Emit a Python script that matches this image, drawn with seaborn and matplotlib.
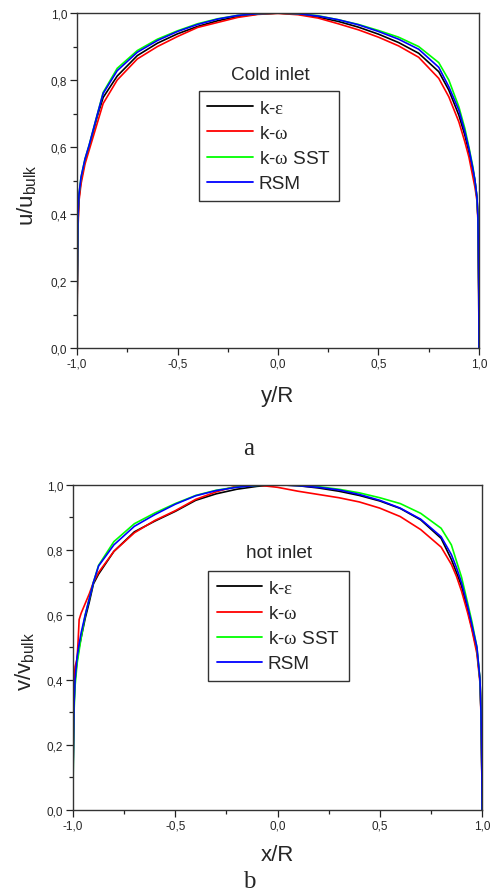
import numpy as np
import pandas as pd
import matplotlib
matplotlib.use("Agg")
import matplotlib.pyplot as plt
from matplotlib.ticker import MultipleLocator, FuncFormatter
import seaborn as sns

# ---- velocity profiles, cold inlet (u/u_bulk vs y/R) ----
r_cold = [-1.0, -0.999, -0.995, -0.99, -0.98, -0.96, -0.94, -0.92, -0.90, -0.87,
          -0.80, -0.70, -0.60, -0.50, -0.40, -0.30, -0.20, -0.10, 0.0, 0.10,
          0.20, 0.30, 0.40, 0.50, 0.60, 0.70, 0.80, 0.85, 0.90, 0.93,
          0.95, 0.97, 0.98, 0.99, 0.995, 0.999, 1.0]
cold_ke = [0, 0.16, 0.38, 0.45, 0.50, 0.56, 0.60, 0.645, 0.69, 0.748,
           0.812, 0.873, 0.910, 0.938, 0.960, 0.977, 0.990, 0.997, 1.0, 0.997,
           0.988, 0.975, 0.958, 0.937, 0.912, 0.880, 0.825, 0.770, 0.695, 0.635,
           0.585, 0.530, 0.500, 0.450, 0.39, 0.16, 0]
cold_kw = [0, 0.15, 0.36, 0.44, 0.49, 0.55, 0.59, 0.63, 0.67, 0.73,
           0.800, 0.863, 0.900, 0.930, 0.957, 0.972, 0.987, 0.996, 0.999, 0.995,
           0.985, 0.968, 0.950, 0.928, 0.902, 0.868, 0.805, 0.750, 0.675, 0.615,
           0.57, 0.51, 0.48, 0.44, 0.38, 0.15, 0]
cold_sst = [0, 0.18, 0.40, 0.46, 0.51, 0.565, 0.605, 0.65, 0.695, 0.763,
            0.835, 0.888, 0.922, 0.947, 0.968, 0.983, 0.993, 0.998, 1.0, 0.998,
            0.992, 0.980, 0.966, 0.948, 0.928, 0.900, 0.852, 0.800, 0.720, 0.655,
            0.600, 0.540, 0.500, 0.450, 0.39, 0.17, 0]
cold_rsm = [0, 0.18, 0.40, 0.46, 0.51, 0.565, 0.605, 0.65, 0.695, 0.760,
            0.828, 0.883, 0.918, 0.945, 0.966, 0.982, 0.993, 0.998, 1.0, 0.998,
            0.991, 0.980, 0.965, 0.945, 0.922, 0.892, 0.838, 0.780, 0.710, 0.645,
            0.595, 0.535, 0.500, 0.450, 0.39, 0.17, 0]

# ---- velocity profiles, hot inlet (v/v_bulk vs x/R) ----
r_hot = [-1.0, -0.999, -0.995, -0.99, -0.98, -0.975, -0.97, -0.96, -0.94, -0.92,
         -0.90, -0.875, -0.80, -0.70, -0.60, -0.50, -0.40, -0.30, -0.20, -0.10,
         0.0, 0.10, 0.20, 0.30, 0.40, 0.50, 0.60, 0.70, 0.80, 0.85,
         0.875, 0.90, 0.93, 0.95, 0.975, 0.99, 0.995, 0.999, 1.0]
hot_ke = [0, 0.15, 0.33, 0.40, 0.46, 0.48, 0.50, 0.53, 0.59, 0.64,
          0.695, 0.725, 0.795, 0.855, 0.888, 0.918, 0.952, 0.972, 0.986, 0.995,
          1.0, 0.997, 0.990, 0.980, 0.967, 0.950, 0.927, 0.892, 0.835, 0.770,
          0.730, 0.688, 0.615, 0.560, 0.490, 0.400, 0.300, 0.120, 0]
hot_kw = [0, 0.20, 0.40, 0.44, 0.465, 0.52, 0.585, 0.605, 0.635, 0.665,
          0.70, 0.73, 0.795, 0.852, 0.890, 0.920, 0.955, 0.978, 0.996, 0.999,
          0.992, 0.980, 0.970, 0.960, 0.947, 0.928, 0.902, 0.862, 0.808, 0.755,
          0.718, 0.672, 0.605, 0.555, 0.48, 0.39, 0.29, 0.11, 0]
hot_sst = [0, 0.12, 0.30, 0.38, 0.45, 0.47, 0.49, 0.53, 0.60, 0.65,
           0.70, 0.752, 0.825, 0.880, 0.913, 0.942, 0.967, 0.983, 0.993, 0.998,
           1.0, 0.998, 0.994, 0.986, 0.975, 0.960, 0.942, 0.912, 0.866, 0.815,
           0.765, 0.715, 0.635, 0.58, 0.50, 0.40, 0.30, 0.12, 0]
hot_rsm = [0, 0.14, 0.32, 0.40, 0.47, 0.49, 0.51, 0.545, 0.60, 0.65,
           0.70, 0.750, 0.815, 0.872, 0.908, 0.940, 0.966, 0.982, 0.992, 0.998,
           1.0, 0.997, 0.992, 0.984, 0.970, 0.952, 0.928, 0.894, 0.840, 0.785,
           0.745, 0.698, 0.625, 0.57, 0.50, 0.40, 0.30, 0.12, 0]

models = ["k-ε", "k-ω", "k-ω SST", "RSM"]
legend_labels = ["k-$\\mathrm{ε}$", "k-$\\mathrm{ω}$", "k-$\\mathrm{ω}$ SST", "RSM"]
colors = ["#000000", "#ff0000", "#00ff00", "#0000ff"]
x_ticks = [-1.0, -0.5, 0.0, 0.5, 1.0]
y_ticks = [0.0, 0.2, 0.4, 0.6, 0.8, 1.0]

sns.set_style("white")
plt.rcParams["font.family"] = ["Liberation Sans", "DejaVu Sans"]
plt.rcParams["mathtext.fontset"] = "custom"
plt.rcParams["mathtext.rm"] = "Liberation Serif"
plt.rcParams["mathtext.sf"] = "Liberation Sans"
plt.rcParams["mathtext.it"] = "Liberation Sans:italic"


def to_long(r, series):
    frames = [pd.DataFrame({"r": r, "vel": vals, "model": name})
              for name, vals in zip(models, series)]
    return pd.concat(frames, ignore_index=True)


def comma(v, pos):
    return f"{v:.1f}".replace(".", ",")


def draw_panel(ax, df, ylabel, xlabel, title, title_xy, leg_xy):
    sns.lineplot(data=df, x="r", y="vel", hue="model", hue_order=models,
                 palette=colors, sort=False, estimator=None, lw=1.2,
                 legend=False, ax=ax)
    ax.set_xlim(-1.0, 1.0)
    ax.set_ylim(0.0, 1.0)
    ax.set_xticks(x_ticks)
    ax.set_yticks(y_ticks)
    ax.xaxis.set_minor_locator(MultipleLocator(0.25))
    ax.yaxis.set_minor_locator(MultipleLocator(0.1))
    ax.xaxis.set_major_formatter(FuncFormatter(comma))
    ax.yaxis.set_major_formatter(FuncFormatter(comma))
    ax.tick_params(axis="both", which="major", direction="out", length=5,
                   width=0.9, labelsize=8.5, color="#222222", pad=2,
                   bottom=True, left=True, top=False, right=False)
    ax.tick_params(axis="both", which="minor", direction="out", length=3,
                   width=0.9, color="#222222",
                   bottom=True, left=True, top=False, right=False)
    for sp in ax.spines.values():
        sp.set_visible(True)
        sp.set_color("#333333")
        sp.set_linewidth(1.0)
    ax.set_xlabel(xlabel, fontsize=16)
    ax.set_ylabel(ylabel, fontsize=16)
    ax.text(title_xy[0], title_xy[1], title, transform=ax.transAxes,
            ha="center", va="center", fontsize=13.7)
    handles = ax.get_lines()[:4]
    leg = ax.legend(handles, legend_labels, loc="upper left",
                    bbox_to_anchor=leg_xy, borderaxespad=0, fontsize=13.7,
                    frameon=True, fancybox=False, handlelength=2.4,
                    handletextpad=0.3, labelspacing=0.41, borderpad=0.45)
    leg.get_frame().set_edgecolor("#000000")
    leg.get_frame().set_linewidth(1.0)
    for h in leg.get_lines():
        h.set_linewidth(1.3)


fig = plt.figure(figsize=(4.95, 8.95), dpi=100)
ax1 = fig.add_axes([0.1556, 0.610, 0.812, 0.3743])
ax2 = fig.add_axes([0.1475, 0.0942, 0.8263, 0.3631])

draw_panel(ax1, to_long(r_cold, [cold_ke, cold_kw, cold_sst, cold_rsm]),
           "u/u$_{\\mathsf{bulk}}$", "y/R", "Cold inlet", (0.48, 0.818),
           (0.303, 0.767))
draw_panel(ax2, to_long(r_hot, [hot_ke, hot_kw, hot_sst, hot_rsm]),
           "v/v$_{\\mathsf{bulk}}$", "x/R", "hot inlet", (0.504, 0.79),
           (0.33, 0.734))

ax1.yaxis.set_label_coords(-0.095, 0.46)
ax2.yaxis.set_label_coords(-0.088, 0.46)
ax1.xaxis.set_label_coords(0.5, -0.11)
ax2.xaxis.set_label_coords(0.5, -0.105)

fig.text(249 / 495, 1 - 455 / 895, "a", ha="center", va="baseline",
         fontsize=18, family="Liberation Serif")
fig.text(249 / 495, 1 - 888 / 895, "b", ha="center", va="baseline",
         fontsize=18, family="Liberation Serif")

fig.savefig("out.png", dpi=100, facecolor="white")
